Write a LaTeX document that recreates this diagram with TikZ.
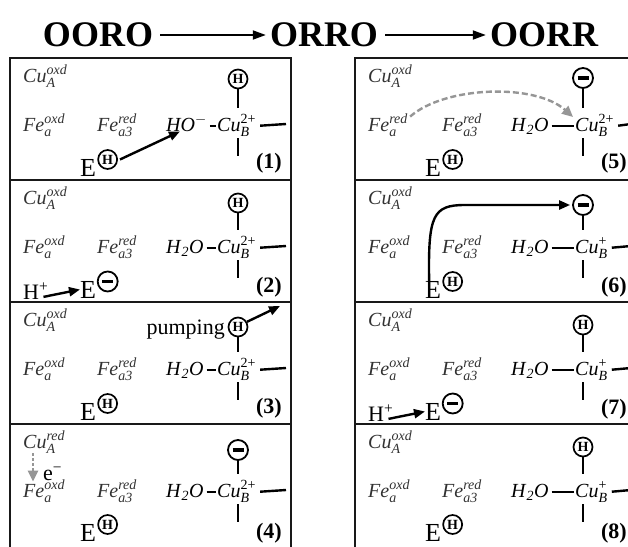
\documentclass[tikz,border=0pt]{standalone}
\usepackage{amsmath}
\usepackage{fontspec}
\setmainfont{Liberation Serif}
\usetikzlibrary{arrows.meta,positioning,calc}
\definecolor{labgray}{RGB}{50,50,50}
\definecolor{dashgray}{RGB}{150,150,150}
\tikzset{
  panel/.style={draw=black!90,line width=1.8pt},
  lab/.style={inner sep=0pt,anchor=base west,text=labgray,font=\fontsize{20}{22}\selectfont},
  txt/.style={inner sep=0pt,anchor=base west,font=\fontsize{22}{24}\selectfont},
  bigE/.style={inner sep=0pt,anchor=base west,font=\fontsize{26}{28}\selectfont},
  num/.style={inner sep=0pt,anchor=base east,font=\fontsize{22}{24}\selectfont\bfseries},
  ttl/.style={inner sep=0pt,font=\fontsize{36}{38}\selectfont\bfseries},
  hcirc/.style={circle,draw,line width=1.7pt,inner sep=0pt,minimum size=19pt,
    font=\fontsize{14}{14}\selectfont\bfseries},
  mcirc/.style={circle,draw,line width=1.8pt,inner sep=0pt,minimum size=20pt,
    path picture={\draw[line width=3.2pt]
      ([xshift=-5.5pt]path picture bounding box.center) -- ([xshift=5.5pt]path picture bounding box.center);}},
  bond/.style={line width=2.4pt},
  arr/.style={-{Triangle[length=11pt,width=9pt]},line width=2.4pt},
  grayarr/.style={-{Triangle[length=11pt,width=10pt]},line width=2.4pt,draw=dashgray,
    dash pattern=on 6pt off 3pt},
  titlearr/.style={-{Triangle[length=13pt,width=9pt]},line width=1.8pt}
}
% one state: #1 prefix, #2/#3 corner, #4 CuA, #5 Fea, #6 ligand, #7 CuB charge, #8 CuB x, #9 extras
\newcommand{\statebox}[9]{%
  \begin{scope}[shift={(#2,#3)}]
    \draw[panel] (0,126) -- (0,0) -- (281,0) -- (281,126);
    \node[lab] (#1cuA) at (13,24) {\textit{Cu}$^{\textit{#4}}_{\textit{A}}$};
    \node[lab] (#1fea) at (13,73) {\textit{Fe}$^{\textit{#5}}_{\textit{a}}$};
    \node[lab] (#1fea3) at (87,73) {\textit{Fe}$^{\textit{red}}_{\textit{a3}}$};
    \node[lab,text=black] (#1lig) at (156,73) {#6};
    \node[lab,text=black] (#1cu) at (#8,73) {\textit{Cu}$^{\text{#7}}_{\textit{B}}$};
    \coordinate (#1up) at (228,50);
    \coordinate (#1dn) at (228,80);
    \coordinate (#1dn2) at (228,98);
    \coordinate (#1rt) at (276,66);
    \draw[bond] ([xshift=3pt,yshift=3pt]#1lig.mid east) -- ([xshift=-1pt,yshift=3pt]#1cu.mid west);
    \draw[bond] ([xshift=4pt,yshift=3pt]#1cu.mid east) -- (#1rt);
    \draw[bond] (#1dn) -- (#1dn2);
    #9
  \end{scope}}

\begin{document}
\begin{tikzpicture}[x=1pt,y=-1pt]
  \path[fill=white,use as bounding box] (0,0) rectangle (628,546);

  %% title
  \node[ttl] (t1) at (98,35) {OORO};
  \node[ttl] (t2) at (324,35) {ORRO};
  \node[ttl] (t3) at (544,35) {OORR};
  \draw[titlearr,shorten <=7pt,shorten >=4pt] (t1) -- (t2);
  \draw[titlearr,shorten <=7pt,shorten >=4pt] (t2) -- (t3);

  %% left column
  \statebox{p1}{10}{58}{oxd}{oxd}{\textit{HO}$^{-}$}{2+}{207}{%
    \node[hcirc] (p1top) at (228,21) {H};
    \draw[bond] (p1top) -- (p1up);
    \node[bigE] (p1E) at (70,118) {E};
    \node[hcirc,anchor=west] (p1Eh) at ([xshift=1pt,yshift=8pt]p1E.east) {H};
    \draw[arr] ([xshift=2pt]p1Eh.east) -- ([xshift=14pt]p1lig.south west);
    \node[num] (p1n) at (272,110) {(1)};
  }
  \statebox{p2}{10}{180}{oxd}{oxd}{\textit{H}$_{\textit{2}}$\textit{O}}{2+}{207}{%
    \node[hcirc] (p2top) at (228,23) {H};
    \draw[bond] (p2top) -- (p2up);
    \node[bigE] (p2E) at (70,118) {E};
    \node[mcirc,anchor=west] (p2Em) at ([xshift=0.5pt,yshift=8pt]p2E.east) {};
    \node[txt] (p2H) at (13,119) {H\textsuperscript{+}};
    \draw[arr] ([xshift=-5pt,yshift=-6pt]p2H.east) -- (p2E.west);
    \node[num] (p2n) at (272,112) {(2)};
  }
  \statebox{p3}{10}{302}{oxd}{oxd}{\textit{H}$_{\textit{2}}$\textit{O}}{2+}{207}{%
    \node[hcirc] (p3top) at (228,25) {H};
    \draw[bond] (p3top) -- (p3up);
    \node[txt,anchor=base east] (p3pump) at (215,32) {pumping};
    \coordinate (p3out) at (270,4);
    \draw[arr] (p3top.30) -- (p3out);
    \node[bigE] (p3E) at (70,118) {E};
    \node[hcirc,anchor=west] (p3Eh) at ([xshift=1pt,yshift=8pt]p3E.east) {H};
    \node[num] (p3n) at (272,111) {(3)};
  }
  \statebox{p4}{10}{424}{red}{oxd}{\textit{H}$_{\textit{2}}$\textit{O}}{2+}{207}{%
    \node[mcirc] (p4top) at (228,26) {};
    \draw[bond] (p4top) -- (p4up);
    \node[txt] (p4e) at (33,56) {e\textsuperscript{−}};
    \draw[grayarr,dash pattern=on 3pt off 2pt] ([xshift=10pt]p4cuA.south west) -- ([xshift=10pt,yshift=-2pt]p4fea.north west);
    \node[bigE] (p4E) at (70,117) {E};
    \node[hcirc,anchor=west] (p4Eh) at ([xshift=1pt,yshift=8pt]p4E.east) {H};
    \node[num] (p4n) at (272,114) {(4)};
  }

  %% right column
  \statebox{p5}{355}{58}{oxd}{red}{\textit{H}$_{\textit{2}}$\textit{O}}{2+}{220}{%
    \node[mcirc] (p5top) at (228,20) {};
    \draw[bond] (p5top) -- (p5up);
    \draw[grayarr] ([xshift=2pt,yshift=-3pt]p5fea.north east) .. controls (90,28) and (180,25) .. ([xshift=-2pt,yshift=-3pt]p5cu.north west);
    \node[bigE] (p5E) at (70,118) {E};
    \node[hcirc,anchor=west] (p5Eh) at ([xshift=1pt,yshift=8pt]p5E.east) {H};
    \node[num] (p5n) at (272,110) {(5)};
  }
  \statebox{p6}{355}{180}{oxd}{oxd}{\textit{H}$_{\textit{2}}$\textit{O}}{+}{220}{%
    \node[mcirc] (p6top) at (228,25) {};
    \draw[bond] (p6top) -- (p6up);
    \node[bigE] (p6E) at (70,118) {E};
    \node[hcirc,anchor=west] (p6Eh) at ([xshift=1pt,yshift=8pt]p6E.east) {H};
    \draw[arr] ([xshift=-4pt]p6E.north) .. controls (73,35) and (78,25) .. (110,25) -- ([xshift=-2pt]p6top.west);
    \node[num] (p6n) at (272,112) {(6)};
  }
  \statebox{p7}{355}{302}{oxd}{oxd}{\textit{H}$_{\textit{2}}$\textit{O}}{+}{220}{%
    \node[hcirc] (p7top) at (228,23) {H};
    \draw[bond] (p7top) -- (p7up);
    \node[bigE] (p7E) at (70,118) {E};
    \node[mcirc,anchor=west] (p7Em) at ([xshift=0.5pt,yshift=8pt]p7E.east) {};
    \node[txt] (p7H) at (13,119) {H\textsuperscript{+}};
    \draw[arr] ([xshift=-5pt,yshift=-6pt]p7H.east) -- (p7E.west);
    \node[num] (p7n) at (272,112) {(7)};
  }
  \statebox{p8}{355}{424}{oxd}{oxd}{\textit{H}$_{\textit{2}}$\textit{O}}{+}{220}{%
    \node[hcirc] (p8top) at (228,23) {H};
    \draw[bond] (p8top) -- (p8up);
    \node[bigE] (p8E) at (70,117) {E};
    \node[hcirc,anchor=west] (p8Eh) at ([xshift=1pt,yshift=8pt]p8E.east) {H};
    \node[num] (p8n) at (272,114) {(8)};
  }
\end{tikzpicture}
\end{document}
